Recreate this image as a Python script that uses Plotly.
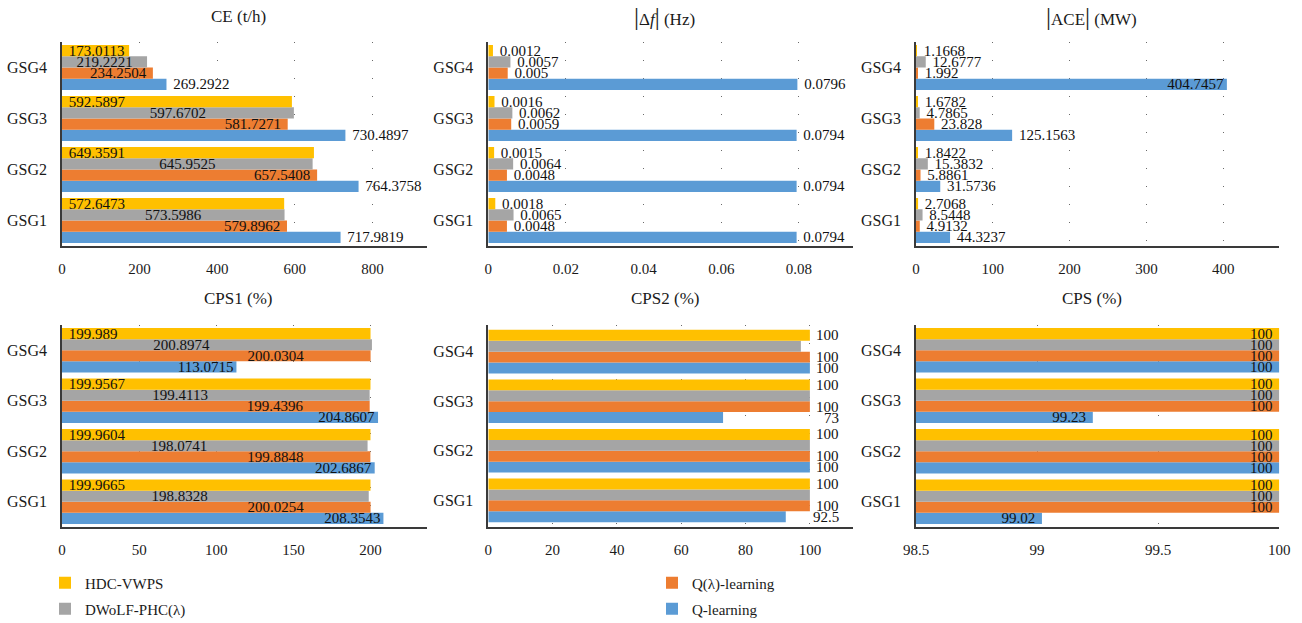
import plotly.graph_objects as go

# ---------------- data ----------------
categories = ["GSG1", "GSG2", "GSG3", "GSG4"]
series_names = ["Q-learning", "Q(λ)-learning", "DWoLF-PHC(λ)", "HDC-VWPS"]
colors = ["#5B9BD5", "#ED7D31", "#A5A5A5", "#FFC000"]

ce_q = [717.9819, 764.3758, 730.4897, 269.2922]
ce_ql = [579.8962, 657.5408, 581.7271, 234.2504]
ce_dw = [573.5986, 645.9525, 597.6702, 219.2221]
ce_hdc = [572.6473, 649.3591, 592.5897, 173.0113]

df_q = [0.0794, 0.0794, 0.0794, 0.0796]
df_ql = [0.0048, 0.0048, 0.0059, 0.005]
df_dw = [0.0065, 0.0064, 0.0062, 0.0057]
df_hdc = [0.0018, 0.0015, 0.0016, 0.0012]

ace_q = [44.3237, 31.5736, 125.1563, 404.7457]
ace_ql = [4.9132, 5.8861, 23.828, 1.992]
ace_dw = [8.5448, 15.3832, 4.7865, 12.6777]
ace_hdc = [2.7068, 1.8422, 1.6782, 1.1668]

cps1_q = [208.3543, 202.6867, 204.8607, 113.0715]
cps1_ql = [200.0254, 199.8848, 199.4396, 200.0304]
cps1_dw = [198.8328, 198.0741, 199.4113, 200.8974]
cps1_hdc = [199.9665, 199.9604, 199.9567, 199.989]

cps2_q = [92.5, 100, 73, 100]
cps2_ql = [100, 100, 100, 100]
cps2_dw = [100, 100, 100, 97.2]
cps2_hdc = [100, 100, 100, 100]

cps_q = [99.02, 100, 99.23, 100]
cps_ql = [100, 100, 100, 100]
cps_dw = [100, 100, 100, 100]
cps_hdc = [100, 100, 100, 100]

titles = ["CE (t/h)",
          "<span style='font-size:25px'>|</span>Δ<i>f</i><span style='font-size:25px'>|</span> (Hz)",
          "<span style='font-size:25px'>|</span>ACE<span style='font-size:25px'>|</span> (MW)",
          "CPS1 (%)", "CPS2 (%)", "CPS (%)"]

ce_ticks = [0, 200, 400, 600, 800]
df_ticks = [0, 0.02, 0.04, 0.06, 0.08]
ace_ticks = [0, 100, 200, 300, 400]
cps1_ticks = [0, 50, 100, 150, 200]
cps2_ticks = [0, 20, 40, 60, 80, 100]
cps_ticks = [98.5, 99, 99.5, 100]

# ---------------- layout geometry ----------------
W, H = 1302, 623
FONT = "Liberation Serif"
NB = "\u00a0"

col_px = [(62, 426.7), (488.3, 853.3), (916, 1279.3)]
row_px = [(42, 246), (325, 527)]
ranges = [[0, 940], [0, 0.094], [0, 473], [0, 236.4], [0, 113.5], [98.5, 100]]
ticks = [ce_ticks, df_ticks, ace_ticks, cps1_ticks, cps2_ticks, cps_ticks]
BARGAP = 0.12

panels = [
    [ce_q, ce_ql, ce_dw, ce_hdc],
    [df_q, df_ql, df_dw, df_hdc],
    [ace_q, ace_ql, ace_dw, ace_hdc],
    [cps1_q, cps1_ql, cps1_dw, cps1_hdc],
    [cps2_q, cps2_ql, cps2_dw, cps2_hdc],
    [cps_q, cps_ql, cps_dw, cps_hdc],
]

# label style per panel/series: (textposition, insidetextanchor, prefix, suffix)
styles = [
    [("outside", "end", NB, ""), ("inside", "end", "", NB), ("inside", "middle", "", ""), ("inside", "start", NB, "")],
    [("outside", "end", NB, ""), ("outside", "end", NB, ""), ("outside", "end", NB, ""), ("outside", "end", NB, "")],
    [(["outside", "outside", "outside", "inside"], "end", NB, ""), ("outside", "end", NB, ""),
     ("outside", "end", NB, ""), ("outside", "end", NB, "")],
    [("inside", "end", "", ""), ("inside", "end", "", NB * 17), ("inside", "middle", "", NB * 19),
     ("inside", "start", NB, "")],
    None,
    [("inside", "end", "", NB), ("inside", "end", "", NB), ("inside", "end", "", NB), ("inside", "end", "", NB)],
]

legend_ids = ["legend4", "legend3", "legend2", "legend"]

fig = go.Figure()
layout = dict(
    width=W, height=H,
    margin=dict(l=0, r=0, t=0, b=0, autoexpand=False),
    paper_bgcolor="white", plot_bgcolor="white",
    barmode="group", bargap=BARGAP, bargroupgap=0,
    font=dict(family=FONT, size=15, color="#1a1a1a"),
    annotations=[],
)

for p in range(6):
    r, c = divmod(p, 3)
    k = "" if p == 0 else str(p + 1)
    x0, x1 = col_px[c]
    y0, y1 = row_px[r]
    xd = [x0 / W, x1 / W]
    yd = [1 - y1 / H, 1 - y0 / H]
    layout["xaxis" + k] = dict(
        domain=xd, anchor="y" + k, range=ranges[p], tickvals=ticks[p], automargin=False,
        showline=True, linecolor="#3a3a3a", linewidth=1.5,
        showgrid=True, gridcolor="#6a6a6a", gridwidth=1, griddash="1px,17px",
        zeroline=False, ticks="outside", ticklen=8, tickcolor="rgba(0,0,0,0)",
        tickfont=dict(family=FONT, size=15, color="#1a1a1a"), fixedrange=True,
    )
    layout["yaxis" + k] = dict(
        domain=yd, anchor="x" + k, type="category", categoryorder="array", automargin=False,
        categoryarray=categories, showline=True, linecolor="#3a3a3a", linewidth=1.5,
        showgrid=False, zeroline=False, ticks="outside", ticklen=10,
        tickcolor="rgba(0,0,0,0)", tickfont=dict(family=FONT, size=16, color="#1a1a1a"),
        fixedrange=True,
    )
    layout["annotations"].append(dict(
        text=titles[p], x=(xd[0] + xd[1]) / 2, xshift=-6, y=1 - (16 if r == 0 else 298) / H,
        xref="paper", yref="paper", xanchor="center", yanchor="middle", showarrow=False,
        font=dict(family=FONT, size=17, color="#1a1a1a"),
    ))

    for i in range(4):
        vals = panels[p][i]
        tr = dict(
            y=categories, x=vals, orientation="h", name=series_names[i],
            marker=dict(color=colors[i], line=dict(width=0)),
            xaxis="x" + k, yaxis="y" + k,
            legend=legend_ids[i], showlegend=(p == 0),
            hoverinfo="x+name",
        )
        st = styles[p]
        if st is not None:
            pos, anchor, pre, post = st[i]
            tr.update(
                text=[f"{pre}{v}{post}" for v in vals], textposition=pos,
                insidetextanchor=anchor, textangle=0, constraintext="none",
                cliponaxis=False,
                textfont=dict(family=FONT, size=15, color="#111111"),
                insidetextfont=dict(family=FONT, size=15, color="#111111"),
                outsidetextfont=dict(family=FONT, size=15, color="#111111"),
            )
        fig.add_trace(go.Bar(**tr))

    # CPS2 labels: right-aligned just beyond the longest bar of each group
    if p == 4:
        band = (y1 - y0) / len(categories)
        bw = band * (1 - BARGAP) / 4
        for ci, cat in enumerate(categories):
            gmax = max(panels[p][s][ci] for s in range(4))
            for i in (0, 1, 3):
                layout["annotations"].append(dict(
                    text=str(panels[p][i][ci]), x=gmax, y=cat, xref="x" + k, yref="y" + k,
                    xanchor="right", yanchor="middle", xshift=31, yshift=(i - 1.5) * bw,
                    showarrow=False, font=dict(family=FONT, size=15, color="#111111"),
                ))

leg_common = dict(xanchor="left", yanchor="middle", bgcolor="rgba(0,0,0,0)", borderwidth=0,
                  font=dict(family=FONT, size=15, color="#1a1a1a"), itemwidth=30)
layout["legend"] = dict(x=45 / W, y=1 - 583 / H, **leg_common)
layout["legend2"] = dict(x=45 / W, y=1 - 609 / H, **leg_common)
layout["legend3"] = dict(x=652 / W, y=1 - 583 / H, **leg_common)
layout["legend4"] = dict(x=652 / W, y=1 - 609 / H, **leg_common)

fig.update_layout(**layout)
fig.write_html(
    "out.html",
    config={"displayModeBar": False},
    post_script="document.body.style.margin='0';document.body.style.overflow='hidden';",
)
